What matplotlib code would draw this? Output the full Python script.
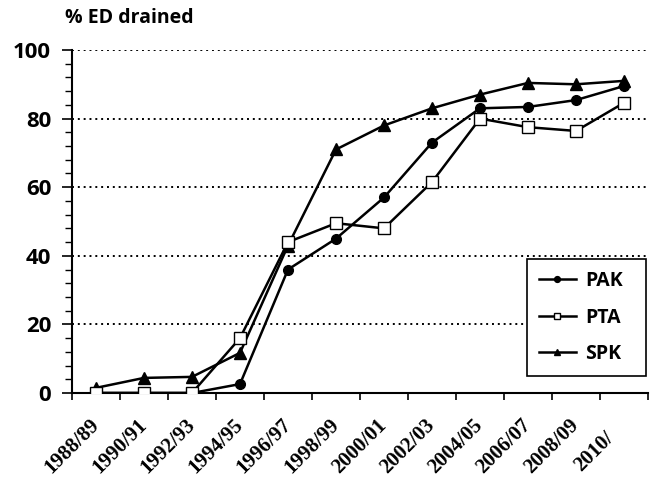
import matplotlib
matplotlib.use('Agg')
import matplotlib.pyplot as plt
import matplotlib.transforms as mtransforms
from matplotlib.ticker import MultipleLocator

# data
years = ['1988/89', '1990/91', '1992/93', '1994/95', '1996/97', '1998/99',
         '2000/01', '2002/03', '2004/05', '2006/07', '2008/09', '2010/']
pak = [0, 0, 0, 2.6, 36, 45, 57, 73, 83, 83.4, 85.4, 89.5]
pta = [0, 0, 0, 16, 44, 49.5, 48, 61.5, 80, 77.5, 76.4, 84.6]
spk = [1.5, 4.4, 4.7, 11.7, 43, 71, 78, 83, 87, 90.4, 90, 91]

plt.rcParams['font.family'] = ['Open Sans', 'DejaVu Sans']
plt.rcParams['font.weight'] = 'bold'

fig = plt.figure(figsize=(6.51, 4.78), dpi=100)
ax = fig.add_axes([72 / 651, 85 / 478, 576 / 651, 343 / 478])

x = list(range(len(years)))
ax.plot(x, pak, color='black', lw=1.8, marker='o', ms=7, label='PAK', zorder=3)
ax.plot(x, pta, color='black', lw=1.8, marker='s', ms=8, mfc='white',
        mew=1.0, label='PTA', zorder=4)
ax.plot(x, spk, color='black', lw=1.8, marker='^', ms=8, label='SPK', zorder=3)

ax.set_xlim(-0.5, len(years) - 0.5)
ax.set_ylim(0, 100)
ax.set_xticks([i - 0.5 for i in range(len(years) + 1)])
ax.set_xticklabels([])
ax.set_xticks(x, minor=True)
ax.set_xticklabels(years, minor=True, rotation=45, ha='right', va='center',
                   rotation_mode='anchor', fontsize=15, fontweight='bold',
                   family=['Liberation Serif', 'DejaVu Serif'])
ax.tick_params(axis='x', which='minor', length=0, pad=21)
ax.tick_params(axis='x', which='major', length=5, width=1.2, direction='out')

# last label sits a little further down-left in the original
last = ax.get_xticklabels(minor=True)[-1]
last.set_transform(last.get_transform() +
                   mtransforms.ScaledTranslation(-9 / 72, -9 / 72, fig.dpi_scale_trans))

ax.yaxis.set_major_locator(MultipleLocator(20))
ax.yaxis.set_minor_locator(MultipleLocator(4))
ax.tick_params(axis='y', which='major', length=7, width=1.2, labelsize=16, pad=8)
ax.tick_params(axis='y', which='minor', length=5, width=1.0)
for lab in ax.get_yticklabels():
    lab.set_fontweight('bold')

for v in [20, 40, 60, 80, 100]:
    ax.axhline(v, color='black', lw=1.4, ls=(0, (1, 2)), zorder=1)

for side in ['top', 'right']:
    ax.spines[side].set_visible(False)
for side in ['left', 'bottom']:
    ax.spines[side].set_linewidth(1.5)

leg = ax.legend(loc='lower left', bbox_to_anchor=(0.790, 0.050, 0.207, 0.3),
                mode='expand', frameon=True,
                fancybox=False, edgecolor='black', markerscale=0.6,
                handlelength=1.9, handletextpad=0.5, borderpad=0.6,
                labelspacing=0.85, borderaxespad=0,
                prop={'weight': 'bold', 'size': 14})
leg.get_frame().set_linewidth(1.2)
leg.get_frame().set_alpha(1)

fig.text(65 / 651, 1 - 18 / 478, '% ED drained', fontsize=14,
         fontweight='bold', va='center', ha='left')

fig.savefig('out.png', dpi=100)
